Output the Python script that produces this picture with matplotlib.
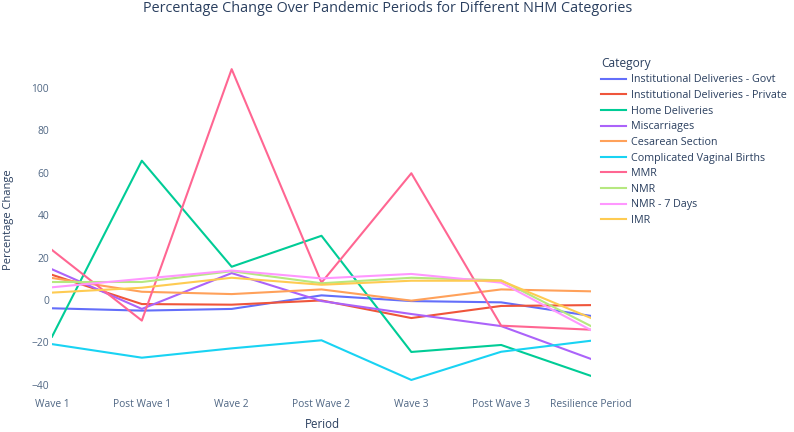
import matplotlib
matplotlib.use("Agg")
import matplotlib.pyplot as plt

periods = ["Wave 1", "Post Wave 1", "Wave 2", "Post Wave 2", "Wave 3", "Post Wave 3", "Resilience Period"]

categories = ["Institutional Deliveries - Govt", "Institutional Deliveries - Private", "Home Deliveries",
              "Miscarriages", "Cesarean Section", "Complicated Vaginal Births", "MMR", "NMR",
              "NMR - 7 Days", "IMR"]

inst_govt = [-3.9, -5.0, -4.2, 2.2, -0.5, -1.1, -7.5]
inst_private = [11.9, -1.9, -2.2, -0.2, -8.5, -2.8, -2.4]
home_deliveries = [-17.3, 65.7, 15.7, 30.3, -24.5, -21.2, -35.8]
miscarriages = [14.5, -4.2, 12.7, -0.5, -6.6, -12.3, -27.8]
cesarean = [10.4, 3.9, 2.8, 5.0, -0.3, 5.0, 4.1]
complicated_vaginal = [-20.8, -27.2, -22.8, -19.0, -37.7, -24.4, -19.2]
mmr = [23.6, -9.7, 108.9, 8.2, 59.8, -12.1, -14.0]
nmr = [8.5, 8.5, 13.6, 7.9, 10.5, 9.3, -12.3]
nmr_7days = [6.0, 10.0, 13.9, 10.2, 12.3, 8.2, -14.2]
imr = [3.5, 5.8, 10.5, 7.2, 9.1, 9.1, -8.5]

series = [inst_govt, inst_private, home_deliveries, miscarriages, cesarean,
          complicated_vaginal, mmr, nmr, nmr_7days, imr]

colors = ['#636EFA', '#EF553B', '#00CC96', '#AB63FA', '#FFA15A', '#19D3F3',
          '#FF6692', '#B6E880', '#FF97FF', '#FECB52']

plt.rcParams['font.family'] = ['Open Sans', 'DejaVu Sans']
text_col = '#2a3f5f'
tick_col = '#506784'

W, H = 794, 432
fig = plt.figure(figsize=(W/100, H/100), dpi=100)
renderer = fig.canvas.get_renderer()


def fit_size(text, target_px, base=10.0):
    t = fig.text(0, 0, text, fontsize=base)
    w = t.get_window_extent(renderer).width
    t.remove()
    return base * target_px / w


tick_fs = fit_size("Resilience Period", 81.6)
leg_fs = fit_size("Institutional Deliveries - Private", 156)
title_fs = fit_size("Percentage Change Over Pandemic Periods for Different NHM Categories", 490)
ylab_fs = fit_size("Percentage Change", 100)
xlab_fs = fit_size("Period", 35)
legtitle_fs = fit_size("Category", 50)

ax = fig.add_axes([52/W, 1-395/H, (591-52)/W, (395-52.4)/H])

x = list(range(len(periods)))
for vals, name, c in zip(series, categories, colors):
    ax.plot(x, vals, color=c, lw=1.5, label=name)

ax.set_xlim(0, len(periods)-1)
ax.set_ylim(-44.8, 116.8)
ax.set_xticks(x)
ax.set_xticklabels(periods)
ax.set_yticks([-40, -20, 0, 20, 40, 60, 80, 100])
for s in ax.spines.values():
    s.set_visible(False)
ax.tick_params(axis='both', length=0, labelsize=tick_fs, colors=tick_col)
ax.tick_params(axis='x', pad=3)
ax.tick_params(axis='y', pad=2)

fig.text(322/W, 1-425/H, "Period", ha='center', va='center', fontsize=xlab_fs, color=text_col)
fig.text(9/W, 1-220/H, "Percentage Change", ha='center', va='center', rotation=90,
         fontsize=ylab_fs, color=text_col)

fig.text(388/W, 1-8/H, "Percentage Change Over Pandemic Periods for Different NHM Categories",
         ha='center', va='center', fontsize=title_fs, color=text_col)

fpx = leg_fs * 100 / 72


def make_legend(spacing, top):
    lg = fig.legend(loc='upper left', bbox_to_anchor=(601/W, 1-top/H), frameon=False,
                    fontsize=leg_fs, title="Category", title_fontsize=legtitle_fs, alignment='left',
                    handlelength=25/fpx, handletextpad=5/fpx, labelspacing=spacing,
                    borderaxespad=0, borderpad=0)
    for t in lg.get_texts():
        t.set_color(text_col)
    lg.get_title().set_color(text_col)
    return lg


spacing = 0.4
top = 57
leg = make_legend(spacing, top)
for _ in range(3):
    fig.canvas.draw()
    texts = leg.get_texts()
    b0 = texts[0].get_window_extent(renderer)
    b1 = texts[-1].get_window_extent(renderer)
    c0 = H - (b0.y0 + b0.y1) / 2
    c1 = H - (b1.y0 + b1.y1) / 2
    step = (c1 - c0) / (len(texts) - 1)
    spacing += (15.6 - step) / fpx
    top += 80 - c0
    leg.remove()
    leg = make_legend(spacing, top)

fig.savefig("out.png", dpi=100)
